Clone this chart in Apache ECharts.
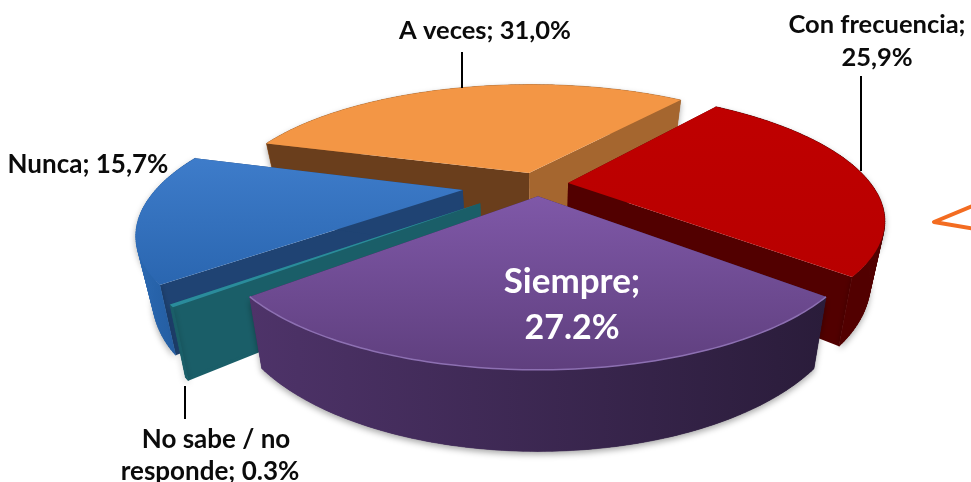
<!DOCTYPE html>
<html>
<head>
<meta charset="utf-8">
<script src="https://cdn.jsdelivr.net/npm/echarts@6/dist/echarts.min.js"></script>
<style>
  html, body { margin: 0; padding: 0; background: #fff; }
  #chart { width: 971px; height: 482px; }
</style>
</head>
<body>
<div id="chart"></div>
<script>
// datos
const categories = ['A veces', 'Con frecuencia', 'Siempre', 'No sabe / no responde', 'Nunca'];
const values = [31.0, 25.9, 27.2, 0.3, 15.7];

// estilo por porcion (mismo orden que categories)
const explodes = [0.1, 0.1, 0.1, 0.24, 0.25];
const topColors = [
  ['#f39645', '#f39645'], ['#bf0000', '#b80000'], ['#7f58a8', '#5f3f7e'],
  ['#2a8c9c', '#2a8c9c'], ['#3e7cca', '#2a66b0']
];
const sideColors = [
  ['#a5662f', '#6a3e1c'], ['#520000', '#520000'], ['#3a2550', '#3a2550'],
  ['#1a5e68', '#1a5e68'], ['#1f4373', '#1f4373']
];
const wallColors = [
  ['#a5662f', '#a5662f'], ['#520000', '#520000'], ['#4e3369', '#2a1c3a'],
  ['#1a5e68', '#1a5e68'], ['#2a68b2', '#1f5594']
];
const rimColors = [null, null, '#8d70b2', null, null];
const paintOrder = [0, 1, 4, 3, 2];
const startAngle = 286.5;

// proyeccion en perspectiva
const cx = 538, cy = 184, A = 303, B = 118, P = 0.274, D = 57;
function proj(x, y, bottom) {
  const s = 1 / (1 + P * y);
  let X = A * x * s;
  let Y = cy - B * y * s;
  if (bottom) { X *= 0.958; Y += D * s; }
  return [cx + X, Y];
}

const total = values.reduce((a, b) => a + b, 0);
let acc = startAngle;
const wedges = values.map((v, i) => {
  const from = acc, to = acc + v / total * 360;
  acc = to;
  const mid = (from + to) / 2 * Math.PI / 180;
  const ox = Math.sin(mid) * explodes[i], oy = Math.cos(mid) * explodes[i];
  const arc = (bottom) => {
    const pts = [];
    const steps = Math.max(2, Math.ceil(to - from));
    for (let k = 0; k <= steps; k++) {
      const a = (from + (to - from) * k / steps) * Math.PI / 180;
      pts.push(proj(ox + Math.sin(a), oy + Math.cos(a), bottom));
    }
    return pts;
  };
  return { i, ox, oy, top: arc(false), under: arc(true) };
});

function vgrad(c) {
  return { type: 'linear', x: 0, y: 0, x2: 0, y2: 1, colorStops: [{ offset: 0, color: c[0] }, { offset: 1, color: c[1] }] };
}

function renderItem(params) {
  const w = wedges[paintOrder[params.dataIndex]];
  const i = w.i;
  const a0 = proj(w.ox, w.oy, false), a1 = proj(w.ox, w.oy, true);
  const n = w.top.length - 1;
  const poly = (points, fill, extra) => ({ type: 'polygon', shape: { points }, style: Object.assign({ fill, stroke: null }, extra || {}) });

  // pared exterior en tiras: el contorno completo se cruza en la silueta
  const xs = [...w.top, ...w.under].map(p => p[0]);
  const wallFill = {
    type: 'linear', global: true,
    x: Math.min(...xs), y: 0, x2: Math.max(...xs), y2: 0,
    colorStops: [{ offset: 0, color: wallColors[i][0] }, { offset: 1, color: wallColors[i][1] }]
  };
  const outer = [poly([...w.top, ...w.under.slice().reverse()], wallFill,
    { shadowColor: 'rgba(0,0,0,0.35)', shadowBlur: 6, shadowOffsetY: 3 })];
  for (let k = 0; k < n; k++) {
    outer.push(poly([w.top[k], w.top[k + 1], w.under[k + 1], w.under[k]], wallFill, { stroke: wallFill, lineWidth: 0.6 }));
  }
  const sides = [
    poly([a0, w.top[0], w.under[0], a1], sideColors[i][1]),
    poly([a0, w.top[n], w.under[n], a1], sideColors[i][0])
  ];
  // la pared de atras va primero, la de delante tapa las caras radiales
  const children = w.oy > 0.05 ? [...outer, ...sides] : [...sides, ...outer];
  children.push(poly([a0, ...w.top], vgrad(topColors[i])));
  if (rimColors[i]) {
    children.push({ type: 'polyline', shape: { points: w.top }, style: { stroke: rimColors[i], lineWidth: 1.5, fill: null } });
  }
  return { type: 'group', children };
}

const chart = echarts.init(document.getElementById('chart'), null, { renderer: 'canvas' });
const font = 'Lato, "Open Sans", sans-serif';
function label(text, x, y, size, color, align) {
  return { type: 'text', x, y, silent: true, z: 10,
    style: { text, font: 'bold ' + size + 'px ' + font, fill: color || '#0b0b0b', align: align || 'center', verticalAlign: 'middle' } };
}
function line(x1, y1, x2, y2) {
  return { type: 'line', silent: true, z: 10, shape: { x1, y1, x2, y2 }, style: { stroke: '#000', lineWidth: 2 } };
}

chart.setOption({
  animation: false,
  backgroundColor: '#fff',
  series: [{
    type: 'custom',
    coordinateSystem: 'none',
    silent: true,
    renderItem,
    data: paintOrder.map(i => ({ name: categories[i], value: values[i] }))
  }],
  graphic: [
    line(462, 52, 462, 88),
    line(861, 76, 861, 171),
    line(185, 386, 185, 419),
    label('A veces; 31,0%', 485, 31, 25.5),
    label('Con frecuencia;', 877, 25, 25.5),
    label('25,9%', 877, 58, 25.5),
    label('Nunca; 15,7%', 88, 165, 26),
    label('No sabe / no', 216, 440, 26),
    label('responde; 0.3%', 210, 472, 26),
    label('Siempre;', 572, 282, 35, '#fff'),
    label('27.2%', 572, 328, 34, '#fff'),
    { type: 'polyline', silent: true, z: 10,
      shape: { points: [[975, 205], [934, 222], [975, 229]] },
      style: { stroke: '#f36c21', lineWidth: 4, fill: null, lineJoin: 'round' } }
  ]
});
</script>
</body>
</html>
